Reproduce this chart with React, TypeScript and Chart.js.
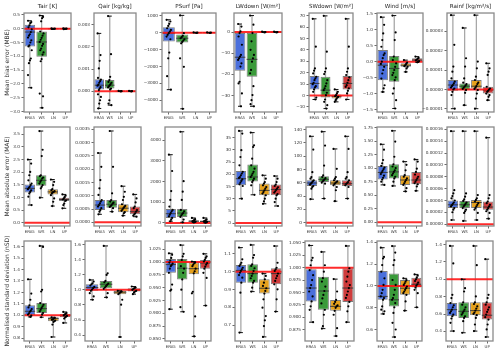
import React, { useEffect, useRef } from "react";
import { Chart, registerables } from "chart.js";
Chart.register(...registerables);
Chart.defaults.font.family = "'DejaVu Sans', sans-serif";

const groups = ["ERA5", "WS", "LN", "UP"];
const variables = ["Tair [K]", "Qair [kg/kg]", "PSurf [Pa]", "LWdown [W/m²]", "SWdown [W/m²]", "Wind [m/s]", "Rainf [kg/m²/s]"];
const metrics = ["Mean bias error (MBE)", "Mean absolute error (MAE)", "Normalised standard deviation (nSD)"];
const refValues = [0, 0, 1];
const boxColors = ["#4a6fdc", "#3a9a3a", "#e6a11c", "#cf3c3c"];

// box stats per group: [min, q1, median, q3, max]
// ---------- Row 1: MBE ----------
const tairMbeBox = [[-2.14, -0.64, -0.12, 0.145, 0.29], [-2.87, -1.02, -0.48, -0.1, 0.48], [-0.01, -0.004, 0, 0.004, 0.01], [-0.015, -0.005, 0, 0.005, 0.015]];
const tairMbePts = [
  [0.29, 0.24, 0.2, 0.12, 0.05, -0.02, -0.12, -0.2, -0.25, -0.32, -0.42, -0.5, -0.6, -0.64, -0.78, -1.08, -1.15, -1.25, -1.68, -2.14],
  [0.48, 0.43, 0.38, 0.27, -0.1, -0.17, -0.25, -0.33, -0.4, -0.48, -0.55, -0.62, -0.72, -0.78, -0.86, -0.94, -1.1, -1.18, -2.35, -2.45, -2.87],
  [0.01, 0.004, 0, -0.004, -0.01],
  [0.015, 0.005, 0, -0.005, -0.015],
];
const tairMbeTicks = [-3, -2.5, -2, -1.5, -1, -0.5, 0, 0.5];
const tairMbeRange = [-3.02, 0.57];

const qairMbeBox = [[-0.00078, 0.00008, 0.00027, 0.00054, 0.00261], [-0.00063, 0.00012, 0.00027, 0.0005, 0.00339], [-0.00001, 0, 0, 0, 0.00001], [-0.00001, 0, 0, 0, 0.00001]];
const qairMbePts = [
  [0.00261, 0.00163, 0.00137, 0.00103, 0.0006, 0.00052, 0.00045, 0.00038, 0.0003, 0.00025, 0.00018, 0.00012, 0.00005, -0.00014, -0.00026, -0.00041, -0.00056, -0.00078],
  [0.00339, 0.00167, 0.00065, 0.0005, 0.00042, 0.00038, 0.00032, 0.00027, 0.00022, 0.00017, 0.00012, 0.00008, -0.00041, -0.00056, -0.00063],
  [0.00001, 0, -0.00001],
  [0.00001, 0, -0.00001],
];
const qairMbeTicks = [0, 0.001, 0.002, 0.003];
const qairMbeRange = [-0.00094, 0.00353];

const psurfMbeBox = [[-3370, -528, -32, 325, 762], [-4500, -587, -330, -111, 1020], [-15, -5, 0, 5, 15], [-15, -5, 0, 5, 15]];
const psurfMbePts = [
  [760, 660, 520, 400, 260, 160, 60, -30, -130, -230, -390, -1180, -1520, -2570, -3370],
  [1020, -30, -190, -270, -330, -390, -470, -550, -630, -1520, -2020, -4500],
  [15, 0, -15],
  [15, 0, -15],
];
const psurfMbeTicks = [-4000, -3000, -2000, -1000, 0, 1000];
const psurfMbeRange = [-4690, 1160];

const lwdownMbeBox = [[-35.1, -18.3, -11.9, -0.5, 3.8], [-35.1, -21.1, -12.9, -0.5, 7.8], [-0.2, -0.1, 0, 0.1, 0.2], [-0.2, -0.1, 0, 0.1, 0.2]];
const lwdownMbePts = [
  [3.8, 2.6, 0.3, -0.5, -2.1, -6.0, -10.8, -11.6, -12.4, -13.2, -14.8, -16.3, -23.5, -24.3, -29.0, -35.1],
  [7.8, 3.5, -0.5, -4.4, -8.4, -10.8, -12.4, -14.0, -17.9, -19.5, -25.6, -29.8, -32.2, -34.1, -35.1],
  [0.2, 0, -0.2],
  [0.2, 0, -0.2],
];
const lwdownMbeTicks = [-30, -20, -10, 0];
const lwdownMbeRange = [-37.8, 9.0];

const swdownMbeBox = [[-3.5, 5.3, 10.6, 17.1, 67.4], [-11.5, -1.8, 4.7, 16.5, 70], [-5.6, -2.6, -0.9, 0.9, 5.3], [-3.5, 5.3, 10.6, 17.1, 67.4]];
const swdownMbePts = [
  [67.4, 42.9, 23.8, 21.8, 19.4, 16.5, 15.0, 13.5, 11.2, 10.0, 8.2, 7.1, 5.3, 3.2, -1.8, -3.5],
  [70, 38.5, 23.8, 20.9, 18.8, 13.5, 10.6, 8.2, 6.2, 4.7, 2.4, 0.3, -3.5, -5.6, -8.5, -11.5],
  [5.3, 3.2, 1.8, 0.3, -0.6, -1.2, -1.8, -2.9, -4.1, -5.6],
  [67.4, 42.9, 23.8, 20.9, 18.0, 15.9, 13.5, 11.2, 9.1, 7.6, 6.2, 4.1, 1.8, -3.5],
];
const swdownMbeTicks = [-10, 0, 10, 20, 30, 40, 50, 60, 70];
const swdownMbeRange = [-14.5, 72.5];

const windMbeBox = [[-0.95, -0.58, -0.11, 0.37, 1.4], [-1.47, -0.63, -0.21, 0.18, 1.45], [-0.32, -0.16, -0.11, -0.05, 0.05], [-0.02, 0.0, 0.05, 0.11, 0.16]];
const windMbePts = [
  [1.4, 1.16, 0.89, 0.68, 0.47, 0.26, 0.21, 0.11, 0.0, -0.07, -0.16, -0.26, -0.37, -0.53, -0.74, -0.84, -0.95],
  [1.45, 0.92, 0.68, 0.16, 0.05, -0.05, -0.16, -0.26, -0.35, -0.42, -0.49, -0.58, -0.84, -1.0, -1.21, -1.47],
  [0.05, -0.03, -0.07, -0.11, -0.14, -0.16, -0.21, -0.32],
  [0.16, 0.12, 0.09, 0.06, 0.04, 0.02, 0.0, -0.02],
];
const windMbeTicks = [-1.5, -1, -0.5, 0, 0.5, 1, 1.5];
const windMbeRange = [-1.58, 1.53];

const rainfMbeBox = [[-0.99e-5, -0.07e-5, 0.23e-5, 0.49e-5, 3.83e-5], [-0.81e-5, -0.03e-5, 0.17e-5, 0.31e-5, 3.17e-5], [-0.99e-5, 0.05e-5, 0.17e-5, 0.49e-5, 3.83e-5], [-0.55e-5, -0.21e-5, -0.03e-5, 0.14e-5, 1.35e-5]];
const rainfMbePts = [
  [3.83e-5, 2.3e-5, 1.18e-5, 0.92e-5, 0.57e-5, 0.4e-5, 0.31e-5, 0.23e-5, 0.17e-5, 0.1e-5, 0.05e-5, 0, -0.12e-5, -0.29e-5, -0.99e-5],
  [3.17e-5, 1.61e-5, 1.18e-5, 0.57e-5, 0.35e-5, 0.28e-5, 0.21e-5, 0.14e-5, 0.09e-5, 0.03e-5, -0.03e-5, -0.17e-5, -0.81e-5],
  [3.83e-5, 1.44e-5, 1.09e-5, 0.66e-5, 0.49e-5, 0.35e-5, 0.28e-5, 0.17e-5, 0.1e-5, 0.03e-5, -0.03e-5, -0.21e-5, -0.47e-5, -0.99e-5],
  [1.35e-5, 1.09e-5, 0.92e-5, 0.75e-5, 0.14e-5, 0.05e-5, 0, -0.07e-5, -0.12e-5, -0.21e-5, -0.29e-5, -0.38e-5, -0.55e-5],
];
const rainfMbeTicks = [-1e-5, 0, 1e-5, 2e-5, 3e-5];
const rainfMbeRange = [-1.16e-5, 3.94e-5];

// ---------- Row 2: MAE ----------
const tairMaeBox = [[0.7, 1.2, 1.36, 1.51, 2.5], [0.99, 1.46, 1.68, 1.88, 3.63], [0.66, 1.12, 1.22, 1.33, 1.71], [0.57, 0.86, 0.92, 0.99, 1.12]];
const tairMaePts = [
  [2.5, 2.34, 2.01, 1.88, 1.68, 1.55, 1.49, 1.42, 1.38, 1.33, 1.28, 1.22, 1.16, 1.03, 0.7],
  [3.63, 2.89, 2.64, 1.88, 1.84, 1.79, 1.75, 1.68, 1.62, 1.55, 1.49, 1.42, 1.36, 0.99],
  [1.71, 1.62, 1.49, 1.33, 1.29, 1.25, 1.22, 1.2, 1.16, 1.09, 0.96, 0.83, 0.66],
  [1.12, 1.07, 1.01, 0.96, 0.92, 0.88, 0.86, 0.76, 0.7, 0.57],
];
const tairMaeTicks = [0, 0.5, 1, 1.5, 2, 2.5, 3, 3.5];
const tairMaeRange = [-0.13, 3.79];

const qairMaeBox = [[0.0003, 0.00046, 0.00065, 0.00084, 0.00261], [0.0004, 0.00055, 0.00068, 0.00084, 0.00344], [0.00025, 0.00038, 0.00053, 0.00068, 0.00136], [0.00021, 0.0003, 0.0004, 0.00059, 0.00105]];
const qairMaePts = [
  [0.00261, 0.00209, 0.00159, 0.00128, 0.00103, 0.00084, 0.00078, 0.00071, 0.00065, 0.00059, 0.00053, 0.00046, 0.0004, 0.0003],
  [0.00344, 0.00209, 0.00109, 0.00084, 0.00078, 0.00074, 0.0007, 0.00065, 0.00061, 0.00058, 0.00053, 0.0004],
  [0.00136, 0.00115, 0.00096, 0.00084, 0.00068, 0.00062, 0.00058, 0.00053, 0.00048, 0.00043, 0.00038, 0.00034, 0.00025],
  [0.00105, 0.0009, 0.00075, 0.00059, 0.00053, 0.00046, 0.0004, 0.00034, 0.0003, 0.00025, 0.00021],
];
const qairMaeTicks = [0, 0.0005, 0.001, 0.0015, 0.002, 0.0025, 0.003, 0.0035];
const qairMaeRange = [-0.00014, 0.00359];

const psurfMaeBox = [[80, 238, 444, 667, 3300], [30, 286, 476, 667, 4410], [20, 50, 80, 130, 240], [10, 40, 70, 120, 240]];
const psurfMaePts = [
  [3300, 2510, 1540, 1110, 790, 630, 560, 480, 400, 320, 240, 160, 80],
  [4410, 2020, 1510, 1110, 630, 560, 480, 430, 370, 290, 160, 30],
  [240, 180, 130, 100, 80, 60, 40, 20],
  [240, 170, 120, 90, 70, 50, 30, 10],
];
const psurfMaeTicks = [0, 1000, 2000, 3000, 4000];
const psurfMaeRange = [-150, 4640];

const lwdownMaeBox = [[10, 15.5, 18.2, 21.4, 37.8], [11.6, 17.1, 18.9, 24.0, 37.1], [7.9, 11.4, 13.4, 16.2, 19.6], [7.0, 11.4, 13.8, 15.8, 19.3]];
const lwdownMaePts = [
  [37.8, 36.7, 29.9, 27.1, 23.7, 21.0, 20.3, 19.6, 18.9, 18.5, 17.9, 17.3, 16.6, 15.9, 15.2, 10.0],
  [37.1, 31.9, 31.2, 26.4, 23.7, 22.3, 21.0, 20.3, 19.6, 18.9, 18.2, 17.5, 16.8, 15.5, 11.6],
  [19.6, 18.2, 16.8, 16.2, 15.5, 14.8, 14.1, 13.4, 12.7, 12.1, 11.4, 10.0, 8.9, 7.9],
  [19.3, 18.2, 16.8, 15.8, 15.2, 14.7, 14.1, 13.6, 13.0, 12.5, 11.9, 11.4, 10.0, 8.6, 7.0],
];
const lwdownMaeTicks = [0, 5, 10, 15, 20, 25, 30, 35];
const lwdownMaeRange = [-1.2, 39.4];

const swdownMaeBox = [[35.3, 55.2, 59.7, 63.7, 130], [36.3, 61.2, 65.2, 69.7, 137], [32.3, 56.2, 59.7, 63.7, 111], [36.3, 55.2, 58.7, 63.7, 130]];
const swdownMaePts = [
  [130, 110, 76, 68.7, 66.2, 63.7, 62.2, 60.2, 58.7, 57.2, 55.2, 53.7, 51.2, 35.3],
  [137, 116, 86, 71.2, 68.7, 67.2, 65.2, 63.7, 62.2, 60.2, 58.7, 36.3],
  [111, 81, 68.7, 66.2, 63.7, 62.2, 61.2, 59.7, 58.2, 56.2, 53.7, 48.8, 32.3],
  [130, 111, 76, 68.7, 66.2, 63.7, 61.2, 59.7, 58.2, 56.2, 53.7, 36.3],
];
const swdownMaeTicks = [0, 20, 40, 60, 80, 100, 120, 140];
const swdownMaeRange = [-5, 144];

const windMaeBox = [[0.69, 0.79, 0.92, 1.04, 1.44], [0.67, 0.81, 0.93, 1.07, 1.69], [0.57, 0.69, 0.78, 0.87, 1.12], [0.58, 0.7, 0.78, 0.93, 1.16]];
const windMaePts = [
  [1.44, 1.34, 1.15, 1.09, 1.04, 1.01, 0.98, 0.95, 0.92, 0.89, 0.86, 0.82, 0.79, 0.75, 0.69],
  [1.69, 1.49, 1.21, 1.07, 1.03, 1.0, 0.96, 0.93, 0.9, 0.87, 0.84, 0.81, 0.75, 0.67],
  [1.12, 1.06, 0.96, 0.87, 0.84, 0.81, 0.78, 0.75, 0.72, 0.69, 0.63, 0.57],
  [1.16, 1.12, 0.99, 0.93, 0.88, 0.84, 0.81, 0.78, 0.75, 0.72, 0.7, 0.66, 0.58],
];
const windMaeTicks = [0, 0.25, 0.5, 0.75, 1, 1.25, 1.5, 1.75];
const windMaeRange = [-0.07, 1.76];

const rainfMaeBox = [[0.71e-5, 2.73e-5, 3.28e-5, 4.0e-5, 15.7e-5], [0.55e-5, 2.73e-5, 3.28e-5, 3.93e-5, 15.7e-5], [0.71e-5, 2.73e-5, 3.66e-5, 4.1e-5, 15.7e-5], [0.93e-5, 2.46e-5, 2.9e-5, 3.83e-5, 14.6e-5]];
const rainfMaePts = [
  [15.7e-5, 5.74e-5, 5.19e-5, 4.75e-5, 4.37e-5, 4.0e-5, 3.66e-5, 3.44e-5, 3.22e-5, 3.0e-5, 2.73e-5, 2.46e-5, 2.02e-5, 0.71e-5],
  [15.7e-5, 5.19e-5, 4.64e-5, 4.21e-5, 3.93e-5, 3.66e-5, 3.44e-5, 3.22e-5, 3.0e-5, 2.73e-5, 2.46e-5, 2.19e-5, 1.91e-5, 0.55e-5],
  [15.7e-5, 4.92e-5, 4.37e-5, 4.1e-5, 3.83e-5, 3.55e-5, 3.28e-5, 3.0e-5, 2.73e-5, 2.46e-5, 1.91e-5, 0.71e-5],
  [14.6e-5, 4.92e-5, 4.37e-5, 3.83e-5, 3.55e-5, 3.28e-5, 3.0e-5, 2.73e-5, 2.46e-5, 2.19e-5, 1.91e-5, 0.93e-5],
];
const rainfMaeTicks = [0, 2e-5, 4e-5, 6e-5, 8e-5, 10e-5, 12e-5, 14e-5, 16e-5];
const rainfMaeRange = [-0.3e-5, 16.4e-5];

// ---------- Row 3: nSD ----------
const tairNsdBox = [[0.986, 1.0, 1.035, 1.087, 1.315], [0.983, 1.02, 1.058, 1.107, 1.607], [0.81, 0.948, 0.971, 0.983, 0.983], [0.933, 0.983, 0.997, 1.012, 1.029]];
const tairNsdPts = [
  [1.315, 1.19, 1.136, 1.087, 1.069, 1.055, 1.04, 1.03, 1.017, 1.006, 0.997, 0.986],
  [1.607, 1.598, 1.223, 1.208, 1.107, 1.092, 1.078, 1.064, 1.049, 1.035, 1.02, 1.006, 0.983],
  [0.983, 0.977, 0.971, 0.965, 0.96, 0.954, 0.948, 0.942, 0.919, 0.81],
  [1.029, 1.02, 1.012, 1.006, 1.0, 0.994, 0.988, 0.983, 0.971, 0.933],
];
const tairNsdTicks = [0.8, 0.9, 1.0, 1.1, 1.2, 1.3, 1.4, 1.5, 1.6];
const tairNsdRange = [0.775, 1.65];

const qairNsdBox = [[0.869, 0.987, 1.031, 1.074, 1.131], [0.9, 1.022, 1.074, 1.118, 1.581], [0.376, 0.943, 0.969, 0.987, 0.987], [0.943, 0.978, 1.0, 1.022, 1.044]];
const qairNsdPts = [
  [1.131, 1.109, 1.087, 1.074, 1.057, 1.039, 1.022, 1.004, 0.987, 0.956, 0.913, 0.869],
  [1.581, 1.218, 1.197, 1.118, 1.1, 1.083, 1.066, 1.048, 1.031, 1.013, 0.956, 0.9],
  [0.987, 0.978, 0.969, 0.956, 0.943, 0.869, 0.803, 0.376],
  [1.044, 1.031, 1.022, 1.013, 1.0, 0.987, 0.978, 0.965, 0.943],
];
const qairNsdTicks = [0.4, 0.6, 0.8, 1.0, 1.2, 1.4, 1.6];
const qairNsdRange = [0.323, 1.646];

const psurfNsdBox = [[0.908, 0.979, 0.995, 1.006, 1.017], [0.903, 0.966, 0.988, 1.006, 1.033], [0.855, 0.976, 0.987, 0.999, 1.001], [0.915, 0.987, 0.998, 1.004, 1.016]];
const psurfNsdPts = [
  [1.017, 1.014, 1.008, 1.003, 0.999, 0.997, 0.994, 0.992, 0.987, 0.979, 0.956, 0.946, 0.944, 0.908],
  [1.033, 1.016, 1.011, 1.004, 0.992, 0.987, 0.979, 0.966, 0.946, 0.912, 0.903],
  [1.001, 0.999, 0.998, 0.995, 0.992, 0.987, 0.982, 0.978, 0.942, 0.939, 0.894, 0.855],
  [1.016, 1.011, 1.008, 1.004, 1.001, 0.998, 0.995, 0.991, 0.987, 0.979, 0.969, 0.915],
];
const psurfNsdTicks = [0.85, 0.875, 0.9, 0.925, 0.95, 0.975, 1.0, 1.025];
const psurfNsdRange = [0.846, 1.041];

const lwdownNsdBox = [[0.658, 0.938, 1.007, 1.037, 1.135], [0.888, 0.938, 0.989, 1.041, 1.15], [0.634, 0.877, 0.907, 0.957, 0.989], [0.776, 0.929, 0.989, 1.019, 1.144]];
const lwdownNsdPts = [
  [1.135, 1.069, 1.05, 1.041, 1.032, 1.022, 1.013, 1.004, 0.994, 0.981, 0.966, 0.938, 0.882, 0.658],
  [1.15, 1.093, 1.078, 1.041, 1.032, 1.019, 1.004, 0.989, 0.976, 0.963, 0.948, 0.938, 0.91, 0.888],
  [0.989, 0.976, 0.957, 0.938, 0.92, 0.907, 0.892, 0.877, 0.845, 0.798, 0.751, 0.727, 0.695, 0.634],
  [1.144, 1.05, 1.022, 1.013, 1.004, 0.989, 0.976, 0.963, 0.948, 0.929, 0.901, 0.845, 0.776],
];
const lwdownNsdTicks = [0.7, 0.8, 0.9, 1.0, 1.1];
const lwdownNsdRange = [0.611, 1.172];

const swdownNsdBox = [[0.89, 0.932, 0.959, 0.997, 1.045], [0.877, 0.915, 0.953, 0.982, 1.032], [0.862, 0.913, 0.922, 0.935, 0.977], [0.89, 0.931, 0.959, 0.999, 1.044]];
const swdownNsdPts = [
  [1.045, 1.02, 1.015, 1.005, 0.995, 0.985, 0.975, 0.965, 0.959, 0.952, 0.942, 0.932, 0.922, 0.915, 0.89],
  [1.032, 1.005, 0.992, 0.979, 0.972, 0.962, 0.953, 0.945, 0.938, 0.928, 0.915, 0.905, 0.882, 0.877],
  [0.977, 0.952, 0.935, 0.931, 0.927, 0.924, 0.922, 0.919, 0.913, 0.905, 0.878, 0.862],
  [1.044, 0.999, 0.992, 0.982, 0.972, 0.965, 0.959, 0.952, 0.945, 0.939, 0.931, 0.922, 0.912, 0.89],
];
const swdownNsdTicks = [0.875, 0.9, 0.925, 0.95, 0.975, 1.0, 1.025, 1.05];
const swdownNsdRange = [0.852, 1.054];

const windNsdBox = [[0.744, 0.873, 0.904, 1.136, 1.349], [0.533, 0.813, 0.873, 1.114, 1.364], [0.774, 0.919, 0.979, 1.054, 1.069], [0.804, 0.985, 1.015, 1.075, 1.105]];
const windNsdPts = [
  [1.349, 1.265, 1.25, 1.19, 1.13, 1.069, 1.009, 0.964, 0.934, 0.904, 0.889, 0.873, 0.813, 0.783, 0.768, 0.744],
  [1.364, 1.304, 1.235, 1.19, 1.054, 1.009, 0.964, 0.919, 0.889, 0.873, 0.843, 0.804, 0.753, 0.663, 0.602, 0.533],
  [1.069, 1.054, 1.039, 1.024, 1.009, 0.994, 0.979, 0.964, 0.949, 0.934, 0.919, 0.858, 0.774],
  [1.105, 1.093, 1.075, 1.06, 1.045, 1.03, 1.015, 1.003, 0.985, 0.964, 0.934, 0.804],
];
const windNsdTicks = [0.6, 0.8, 1.0, 1.2, 1.4];
const windNsdRange = [0.497, 1.41];

const rainfNsdBox = [[0.403, 0.574, 0.65, 0.726, 1.384], [0.384, 0.555, 0.631, 0.734, 1.0], [0.403, 0.586, 0.639, 0.734, 1.384], [0.335, 0.536, 0.586, 0.734, 1.232]];
const rainfNsdPts = [
  [1.384, 1.183, 0.821, 0.783, 0.726, 0.7, 0.677, 0.65, 0.631, 0.612, 0.593, 0.574, 0.548, 0.498, 0.403],
  [1.0, 0.897, 0.859, 0.734, 0.707, 0.677, 0.65, 0.631, 0.612, 0.593, 0.574, 0.555, 0.517, 0.384],
  [1.384, 1.163, 0.802, 0.734, 0.715, 0.688, 0.662, 0.639, 0.616, 0.601, 0.586, 0.555, 0.479, 0.403],
  [1.232, 0.821, 0.783, 0.734, 0.707, 0.677, 0.65, 0.624, 0.593, 0.563, 0.536, 0.479, 0.422, 0.335],
];
const rainfNsdTicks = [0.4, 0.6, 0.8, 1.0, 1.2, 1.4];
const rainfNsdRange = [0.289, 1.441];

// ---------- layout (pixels of each plot area) ----------
const plotTops = [13, 127, 241];
const plotBottoms = [112, 226, 341];
const plotLefts = [
  [24, 94, 162, 234, 309, 377, 447],
  [24, 94, 165, 235, 306, 377, 447],
  [24, 85, 165, 235, 305, 377, 446],
];
const plotRights = [
  [73, 138, 218, 284, 355, 425, 496],
  [72, 143, 213, 284, 355, 424, 496],
  [73, 143, 213, 284, 356, 424, 495],
];

type Spec = { box: number[][]; pts: number[][]; ticks: number[]; range: number[]; dec: number; row: number; col: number };

const rowsSpec: [number[][], number[][], number[], number[], number][][] = [
  [
    [tairMbeBox, tairMbePts, tairMbeTicks, tairMbeRange, 1],
    [qairMbeBox, qairMbePts, qairMbeTicks, qairMbeRange, 3],
    [psurfMbeBox, psurfMbePts, psurfMbeTicks, psurfMbeRange, 0],
    [lwdownMbeBox, lwdownMbePts, lwdownMbeTicks, lwdownMbeRange, 0],
    [swdownMbeBox, swdownMbePts, swdownMbeTicks, swdownMbeRange, 0],
    [windMbeBox, windMbePts, windMbeTicks, windMbeRange, 1],
    [rainfMbeBox, rainfMbePts, rainfMbeTicks, rainfMbeRange, 5],
  ],
  [
    [tairMaeBox, tairMaePts, tairMaeTicks, tairMaeRange, 1],
    [qairMaeBox, qairMaePts, qairMaeTicks, qairMaeRange, 4],
    [psurfMaeBox, psurfMaePts, psurfMaeTicks, psurfMaeRange, 0],
    [lwdownMaeBox, lwdownMaePts, lwdownMaeTicks, lwdownMaeRange, 0],
    [swdownMaeBox, swdownMaePts, swdownMaeTicks, swdownMaeRange, 0],
    [windMaeBox, windMaePts, windMaeTicks, windMaeRange, 2],
    [rainfMaeBox, rainfMaePts, rainfMaeTicks, rainfMaeRange, 5],
  ],
  [
    [tairNsdBox, tairNsdPts, tairNsdTicks, tairNsdRange, 1],
    [qairNsdBox, qairNsdPts, qairNsdTicks, qairNsdRange, 1],
    [psurfNsdBox, psurfNsdPts, psurfNsdTicks, psurfNsdRange, 3],
    [lwdownNsdBox, lwdownNsdPts, lwdownNsdTicks, lwdownNsdRange, 1],
    [swdownNsdBox, swdownNsdPts, swdownNsdTicks, swdownNsdRange, 3],
    [windNsdBox, windNsdPts, windNsdTicks, windNsdRange, 1],
    [rainfNsdBox, rainfNsdPts, rainfNsdTicks, rainfNsdRange, 1],
  ],
];

const specs: Spec[] = [];
rowsSpec.forEach((row, r) =>
  row.forEach(([box, pts, ticks, range, dec], c) => specs.push({ box, pts, ticks, range, dec, row: r, col: c }))
);

function fmt(v: number, d: number): string {
  const s = Math.abs(v).toFixed(d);
  return (v < 0 && Number(s) !== 0 ? "\u2212" : "") + s;
}

const BOX_FRAC = 0.9;

const framePlugin = {
  id: "frame",
  afterDatasetsDraw(chart: any) {
    const { ctx, chartArea } = chart;
    ctx.save();
    ctx.strokeStyle = "#8a8a8a";
    ctx.lineWidth = 1.3;
    ctx.strokeRect(chartArea.left, chartArea.top, chartArea.right - chartArea.left, chartArea.bottom - chartArea.top);
    ctx.restore();
  },
};

function Panel({ spec }: { spec: Spec }) {
  const ref = useRef<HTMLCanvasElement | null>(null);
  const { row, col } = spec;
  const px0 = plotLefts[row][col];
  const px1 = plotRights[row][col];
  const py0 = plotTops[row];
  const py1 = plotBottoms[row];
  const axisW = col === 0 ? px0 : 34;
  const topPad = row === 0 ? 10 : 6;
  const botPad = 10;
  const rightPad = 3;
  const left = px0 - axisW;
  const top = py0 - topPad;
  const width = axisW + (px1 - px0) + rightPad;
  const height = topPad + (py1 - py0) + botPad;

  useEffect(() => {
    const { box, pts, ticks, range, dec } = spec;
    const ref0 = refValues[row];
    const jit = (k: number) => (((k * 7) % 9) - 4) * 0.04;
    const chart = new Chart(ref.current as HTMLCanvasElement, {
      type: "bar",
      data: {
        datasets: [
          {
            type: "bar",
            data: box.map((b, i) => ({ x: i + 1, y: [b[0], b[4]] })) as any,
            backgroundColor: "#a8a8a8",
            borderWidth: 0,
            maxBarThickness: 1.3,
            grouped: false,
            order: 6,
          } as any,
          {
            type: "bar",
            data: box.map((b, i) => ({ x: i + 1, y: [b[1], b[3]] })) as any,
            backgroundColor: boxColors,
            borderColor: "#7d7d7d",
            borderWidth: 1,
            borderSkipped: false,
            barPercentage: BOX_FRAC,
            categoryPercentage: 1,
            grouped: false,
            order: 5,
          } as any,
          {
            type: "line",
            data: box.map((b, i) => ({ x: i + 1, y: b[2] })),
            showLine: false,
            pointStyle: "line",
            pointRadius: (ctx: any) => {
              const s = ctx.chart.scales.x;
              return Math.abs(s.getPixelForValue(1 + BOX_FRAC / 2) - s.getPixelForValue(1));
            },
            pointBorderColor: "#333333",
            pointBorderWidth: 0.9,
            order: 4,
          } as any,
          {
            type: "line",
            data: [{ x: 0.5, y: ref0 }, { x: 4.5, y: ref0 }],
            borderColor: "rgba(255,20,20,0.9)",
            borderWidth: 2,
            pointRadius: 0,
            order: 3,
          } as any,
          {
            type: "line",
            data: box.flatMap((b, i) => [{ x: i + 1, y: b[0] }, { x: i + 1, y: b[4] }]),
            showLine: false,
            pointStyle: "line",
            pointRadius: 2,
            pointBorderColor: "#111111",
            pointBorderWidth: 1,
            order: 2,
          } as any,
          {
            type: "line",
            data: pts.flatMap((arr, i) => arr.map((v, k) => ({ x: i + 1 + jit(k), y: v }))),
            showLine: false,
            pointRadius: 1.1,
            pointBackgroundColor: "#000000",
            pointBorderWidth: 0,
            order: 1,
          } as any,
        ],
      },
      options: {
        animation: false,
        responsive: false,
        devicePixelRatio: 1,
        layout: { padding: { top: row === 0 ? 0 : topPad, right: rightPad, left: 0, bottom: 0 } },
        plugins: {
          legend: { display: false },
          tooltip: { enabled: false },
          title: {
            display: row === 0,
            text: variables[col],
            fullSize: false,
            color: "#222222",
            font: { size: 5.6, weight: "normal" },
            padding: { top: 0, bottom: 3.3 },
          },
        },
        scales: {
          x: {
            type: "linear",
            min: 0.5,
            max: 4.5,
            offset: false,
            grid: { offset: false, drawOnChartArea: false, drawTicks: true, tickLength: 2.5, color: "#444444", lineWidth: 0.8 },
            border: { display: false },
            afterBuildTicks: (s: any) => {
              s.ticks = groups.map((_, i) => ({ value: i + 1 }));
            },
            afterFit: (s: any) => {
              s.height = botPad;
            },
            ticks: {
              autoSkip: false,
              maxRotation: 0,
              minRotation: 0,
              padding: 1,
              color: "#333333",
              font: { size: 3.9 },
              callback: (v: any) => groups[Number(v) - 1] ?? "",
            },
          },
          y: {
            type: "linear",
            min: range[0],
            max: range[1],
            grid: { drawOnChartArea: false, drawTicks: true, tickLength: 2.5, color: "#444444", lineWidth: 0.8 },
            border: { display: false },
            afterBuildTicks: (s: any) => {
              s.ticks = ticks.map((v) => ({ value: v }));
            },
            afterFit: (s: any) => {
              s.width = axisW;
            },
            title: {
              display: col === 0,
              text: metrics[row],
              color: "#333333",
              font: { size: 6 },
              padding: { top: 3.5, bottom: 0 },
            },
            ticks: {
              padding: 1.5,
              color: "#333333",
              font: { size: 4.2 },
              callback: (v: any) => fmt(Number(v), dec),
            },
          },
        },
      },
      plugins: [framePlugin],
    });
    return () => chart.destroy();
  }, []);

  return (
    <canvas
      ref={ref}
      width={width}
      height={height}
      style={{ position: "absolute", left, top, width, height }}
    />
  );
}

export default function App() {
  return (
    <div style={{ position: "absolute", left: 0, top: 0, width: 500, height: 352, background: "#ffffff", overflow: "hidden" }}>
      {specs.map((s, i) => (
        <Panel key={i} spec={s} />
      ))}
    </div>
  );
}
